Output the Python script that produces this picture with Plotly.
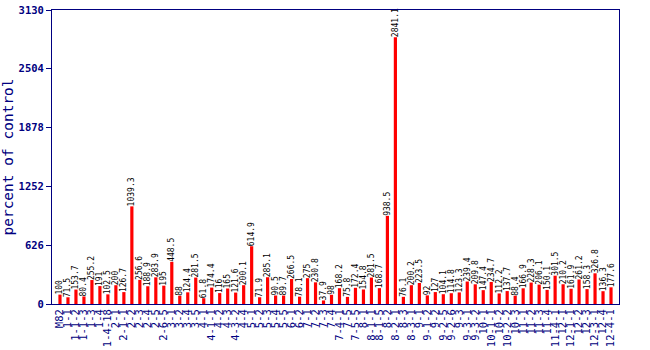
import plotly.graph_objects as go

# Introgression lines (plus the M82 control) and their response, % of control
lines = [
    "M82", "1-1", "1-1-2", "1-1-3", "1-3", "1-4", "1-4-18", "2-1", "2-1-1", "2-2",
    "2-3", "2-4", "2-5", "2-6-5", "3-1", "3-2", "3-4", "3-5", "4-1", "4-1-1",
    "4-2", "4-3", "4-3-2", "4-4", "5-1", "5-2", "5-3", "5-4", "5-5", "6-1",
    "6-2", "7-1", "7-2", "7-3", "7-4", "7-4-1", "7-5", "7-5-5", "8-1", "8-1-1",
    "8-1-5", "8-2", "8-2-1", "8-3", "8-3-1", "9-1", "9-1-2", "9-2", "9-2-5", "9-2-6",
    "9-3", "9-3-1", "9-3-2", "10-1", "10-1-1", "10-2", "10-2-2", "10-3", "11-1", "11-2",
    "11-3", "11-4", "11-4-1", "12-1", "12-1-1", "12-2", "12-3", "12-3-1", "12-4", "12-4-1",
]

percent_of_control = [
    100, 71.5, 153.7, 80.4, 255.2, 191, 102.5, 200, 126.7, 1039.3,
    256.6, 188.9, 283.9, 195, 448.5, 88, 124.4, 281.5, 61.8, 174.4,
    116, 165, 121.6, 200.1, 614.9, 71.9, 285.1, 90.5, 89.7, 266.5,
    78.1, 275, 230.8, 37.9, 98, 168.2, 75.8, 172.4, 154.8, 281.5,
    168.7, 938.5, 2841.1, 76.1, 200.2, 223.5, 92, 127, 104.1, 114.8,
    123.3, 239.4, 209.8, 147.4, 234.7, 112.2, 137.7, 88.4, 166.9, 228.3,
    206.1, 150.1, 301.5, 210.2, 161.9, 261.2, 158.3, 326.8, 136.3, 177.6,
]

y_ticks = [0, 626, 1252, 1878, 2504, 3130]

NAVY = "#000080"
MONO = "DejaVu Sans Mono"

fig = go.Figure(
    go.Bar(
        x=lines,
        y=percent_of_control,
        marker=dict(color="#ff0000", line=dict(width=0)),
        width=0.4,
        text=[f"{v:g}" for v in percent_of_control],
        textposition="outside",
        textangle=-90,
        constraintext="none",
        cliponaxis=False,
        textfont=dict(family=MONO, size=8, color="#000000"),
        hoverinfo="x+y",
    )
)

fig.update_layout(
    width=650,
    height=350,
    margin=dict(l=52, r=31, t=10, b=46, autoexpand=False),
    paper_bgcolor="white",
    plot_bgcolor="white",
    showlegend=False,
    xaxis=dict(
        type="category",
        range=[-1, len(lines)],
        tickmode="array",
        tickvals=lines,
        ticktext=lines,
        tickangle=-90,
        ticks="",
        tickfont=dict(family=MONO, size=10.5, color=NAVY),
        showline=True,
        linecolor=NAVY,
        linewidth=1,
        mirror=True,
        showgrid=False,
        zeroline=False,
        automargin=False,
    ),
    yaxis=dict(
        range=[0, 3130],
        tickmode="array",
        tickvals=y_ticks,
        ticktext=[str(t) for t in y_ticks],
        ticks="outside",
        ticklen=5,
        tickcolor=NAVY,
        tickfont=dict(family=MONO, size=10.5, color=NAVY, weight="bold"),
        showline=True,
        linecolor=NAVY,
        linewidth=1,
        mirror=True,
        showgrid=False,
        zeroline=False,
        automargin=False,
        title=dict(
            text="percent of control",
            font=dict(family=MONO, size=14.5, color=NAVY),
            standoff=8,
        ),
    ),
)

fig.write_html("out.html")
